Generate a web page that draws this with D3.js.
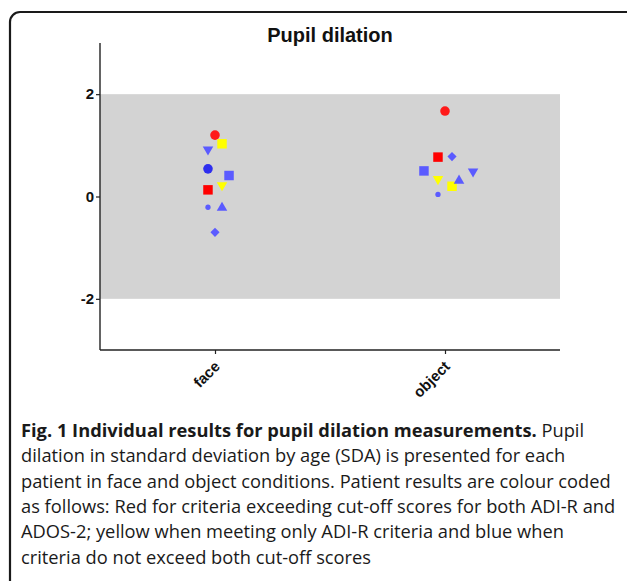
<!DOCTYPE html>
<html>
<head>
<meta charset="utf-8">
<script src="https://cdn.jsdelivr.net/npm/d3@7"></script>
<style>
  html, body { margin: 0; padding: 0; background: #fff; }
  svg { display: block; }
</style>
</head>
<body>
<svg id="chart" width="627" height="581"></svg>
<script>
// ---------------- data ----------------
const conditions = ["face", "object"];
const patients = ["P1", "P2", "P3", "P4", "P5", "P6", "P7", "P8", "P9", "P10"];
const groups = ["both", "both", "ADI-R", "ADI-R", "none", "none", "none", "none", "none", "none"];
const faceValues = [1.20, 0.13, 1.03, 0.22, 0.92, 0.54, 0.41, -0.21, -0.22, -0.70];
const objectValues = [1.67, 0.77, 0.20, 0.34, 0.49, null, 0.50, 0.04, 0.31, 0.78];
const faceJitter = [0, -1, 1, 1, -1, -1, 2, -1, 1, 0];
const objectJitter = [0, -1, 1, -1, 4, 0, -3, -1, 2, 1];
const yTicks = [-2, 0, 2];
const bandLow = -2, bandHigh = 2;
const title = "Pupil dilation";
const captionBold = "Fig. 1 Individual results for pupil dilation measurements.";
const captionLines = [
  " Pupil",
  "dilation in standard deviation by age (SDA) is presented for each",
  "patient in face and object conditions. Patient results are colour coded",
  "as follows: Red for criteria exceeding cut-off scores for both ADI-R and",
  "ADOS-2; yellow when meeting only ADI-R criteria and blue when",
  "criteria do not exceed both cut-off scores"
];

// ---------------- styles ----------------
const patientColor = d3.scaleOrdinal()
  .domain(patients)
  .range(["#ff1a1a", "#ff0000", "#ffff00", "#ffff00", "#5b5bff", "#2e2eee", "#5b5bff", "#5b5bff", "#5b5bff", "#5b5bff"]);
const patientShape = d3.scaleOrdinal()
  .domain(patients)
  .range(["circle", "square", "square", "down", "down", "circle", "square", "circle", "up", "diamond"]);
const patientSize = d3.scaleOrdinal()
  .domain(patients)
  .range([72, 90, 90, 48, 48, 72, 90, 22, 48, 42]);

// ---------------- layout ----------------
const svg = d3.select("#chart");
const plot = { left: 100, right: 560, top: 43, bottom: 350 };

const x = d3.scalePoint().domain(conditions).range([plot.left, plot.right]).padding(0.5);
const y = d3.scaleLinear().domain([-3, 3]).range([plot.bottom, plot.top]);
const jitter = d3.scaleLinear().domain([0, 1]).range([0, x.step() * 0.0305]);

// frame
svg.append("rect")
  .attr("x", 10).attr("y", 12)
  .attr("width", 640).attr("height", 620)
  .attr("rx", 10).attr("ry", 10)
  .attr("fill", "none").attr("stroke", "#1a1a1a").attr("stroke-width", 2.2);

// grey band
svg.append("rect")
  .attr("x", plot.left).attr("y", y(bandHigh))
  .attr("width", plot.right - plot.left).attr("height", y(bandLow) - y(bandHigh))
  .attr("fill", "#d3d3d3");

// axes
const yAxis = svg.append("g")
  .attr("transform", `translate(${plot.left},0)`)
  .call(d3.axisLeft(y).tickValues(yTicks).tickSize(4).tickPadding(2).tickFormat(d => String(d)));
yAxis.attr("font-size", null).attr("font-family", null);
yAxis.select(".domain").attr("d", `M0,${plot.top}V${plot.bottom}`).attr("stroke", "#222").attr("stroke-width", 1.4);
yAxis.selectAll(".tick line").attr("stroke", "#222").attr("stroke-width", 1.2);
yAxis.selectAll(".tick text")
  .style("font-family", "'Liberation Sans', Arial, sans-serif")
  .style("font-weight", "bold").style("font-size", "15px").attr("fill", "#111");

const xAxis = svg.append("g")
  .attr("transform", `translate(0,${plot.bottom})`)
  .call(d3.axisBottom(x).tickSize(4).tickPadding(4));
xAxis.attr("font-size", null).attr("font-family", null);
xAxis.select(".domain").attr("d", `M${plot.left},0H${plot.right}`).attr("stroke", "#222").attr("stroke-width", 1.4);
xAxis.selectAll(".tick line").attr("stroke", "#222").attr("stroke-width", 1.2);
xAxis.selectAll(".tick text")
  .style("font-family", "'Liberation Sans', Arial, sans-serif")
  .style("font-weight", "bold").style("font-size", "15px").attr("fill", "#111")
  .attr("text-anchor", "end")
  .attr("dy", "0.35em")
  .attr("transform", "translate(-4,8) rotate(-45)");

// title
svg.append("text")
  .attr("x", (plot.left + plot.right) / 2).attr("y", 42)
  .attr("text-anchor", "middle")
  .style("font-family", "'Liberation Sans', Arial, sans-serif")
  .style("font-weight", "bold").style("font-size", "20px").attr("fill", "#111")
  .text(title);

// points
function symbolPath(shape, size) {
  if (shape === "circle") return d3.symbol(d3.symbolCircle, size)();
  if (shape === "square") return d3.symbol(d3.symbolSquare, size)();
  if (shape === "diamond") return d3.symbol(d3.symbolSquare, size)();
  return d3.symbol(d3.symbolTriangle, size)();
}
function rotationOf(shape) {
  if (shape === "down") return 180;
  if (shape === "diamond") return 45;
  return 0;
}
const points = [];
patients.forEach((p, i) => {
  if (faceValues[i] != null) points.push({ p, cond: "face", v: faceValues[i], j: faceJitter[i] });
  if (objectValues[i] != null) points.push({ p, cond: "object", v: objectValues[i], j: objectJitter[i] });
});
svg.append("g").selectAll("path").data(points).join("path")
  .attr("d", d => symbolPath(patientShape(d.p), patientSize(d.p)))
  .attr("transform", d => `translate(${x(d.cond) + jitter(d.j)},${y(d.v)}) rotate(${rotationOf(patientShape(d.p))})`)
  .attr("fill", d => patientColor(d.p));

// caption
const cap = svg.append("g")
  .style("font-family", "'Open Sans', sans-serif")
  .style("font-size", "18.3px").attr("fill", "#1a1a1a");
const lineH = 25.3;
const capX = 21, capY0 = 437;
const first = cap.append("text").attr("x", capX).attr("y", capY0);
first.append("tspan").style("font-weight", "bold").text(captionBold);
first.append("tspan").text(captionLines[0]);
captionLines.slice(1).forEach((t, i) => {
  cap.append("text").attr("x", capX).attr("y", capY0 + lineH * (i + 1)).text(t);
});
</script>
</body>
</html>
